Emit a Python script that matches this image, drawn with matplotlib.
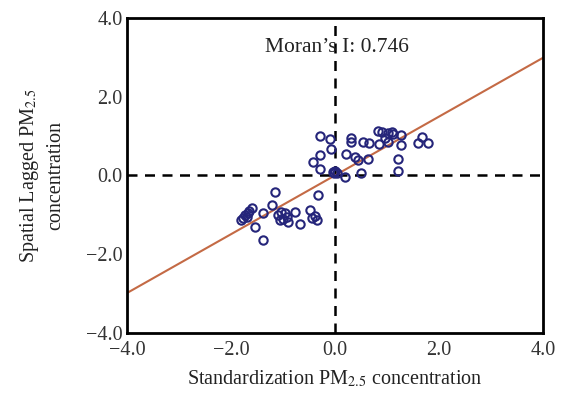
import numpy as np
import matplotlib.pyplot as plt

plt.rcParams['font.family'] = ['Liberation Serif', 'DejaVu Serif']
plt.rcParams['mathtext.fontset'] = 'stix'

# standardized PM2.5 vs spatially lagged PM2.5
x_std = [
    -1.15, -0.32, -1.21, -1.60, -1.65, -1.68, -1.73, -1.76, -1.70, -1.80,
    -1.54, -1.38, -1.39, -1.10, -1.03, -0.97, -0.92, -1.06, -0.90, -0.77,
    -0.67, -0.48, -0.44, -0.38, -0.35, -1.00,
    -0.29, -0.10, -0.07, -0.28, -0.43, -0.29, -0.04, 0.00, 0.03, -0.02,
    0.20, 0.30, 0.30, 0.21, 0.38, 0.45, 0.64, 0.51, 0.54, 0.66,
    0.83, 0.90, 0.85, 1.03, 1.09, 1.12, 1.03, 1.28, 1.28, 1.22,
    1.22, 1.67, 1.60, 1.79, 0.96,
]
y_lag = [
    -0.42, -0.49, -0.75, -0.83, -0.90, -0.95, -1.00, -1.08, -1.05, -1.13,
    -1.30, -0.96, -1.64, -1.00, -0.92, -0.95, -1.05, -1.13, -1.18, -0.92,
    -1.23, -0.88, -1.08, -1.03, -1.13, -1.10,
    1.00, 0.92, 0.66, 0.52, 0.34, 0.17, 0.08, 0.10, 0.07, 0.05,
    -0.05, 0.94, 0.84, 0.55, 0.48, 0.38, 0.42, 0.07, 0.86, 0.83,
    1.13, 1.11, 0.80, 0.86, 1.11, 1.05, 1.07, 1.03, 0.77, 0.41,
    0.12, 0.97, 0.82, 0.82, 0.95,
]
morans_i = 0.746
ticks = [-4.0, -2.0, 0.0, 2.0, 4.0]


def fmt(t):
    return ('%.1f' % t).replace('-', '\u2212')


fig = plt.figure(figsize=(5.62, 3.96), dpi=100)
ax = fig.add_axes([0.226, 0.159, 0.740, 0.796])

ax.axhline(0, color='black', lw=1.8, ls=(0, (4, 3)), zorder=1)
ax.axvline(0, color='black', lw=1.8, ls=(0, (4, 3)), zorder=1)

xs = np.array([-4.0, 4.0])
ax.plot(xs, morans_i * xs, color='#c46a45', lw=1.5, zorder=2)

ax.plot(x_std, y_lag, 'o', mfc='none', mec='#25257a', mew=1.5,
        ms=6, zorder=3)

ax.text(0.03, 3.24, "Moran\u2019s I: %.3f" % morans_i, ha='center',
        va='center', fontsize=15.5, color='#222222')

ax.set_xlim(-4, 4)
ax.set_ylim(-4, 4)
ax.set_xticks(ticks)
ax.set_yticks(ticks)
ax.set_xticklabels([fmt(t) for t in ticks])
ax.set_yticklabels([fmt(t) for t in ticks])
ax.tick_params(length=0, labelsize=14.5, labelcolor='#333333')
ax.tick_params(axis='x', pad=6)
ax.tick_params(axis='y', pad=3)
for s in ax.spines.values():
    s.set_linewidth(2)

ax.set_xlabel('Standardization PM$_{2.5}$ concentration', fontsize=14.5,
              color='#222222', labelpad=6)
ax.set_ylabel('Spatial Lagged PM$_{2.5}$\nconcentration', fontsize=14.5,
              color='#222222', linespacing=1.4)
ax.yaxis.set_label_coords(-0.148, 0.5)

fig.savefig('out.png', dpi=100, facecolor='white')
